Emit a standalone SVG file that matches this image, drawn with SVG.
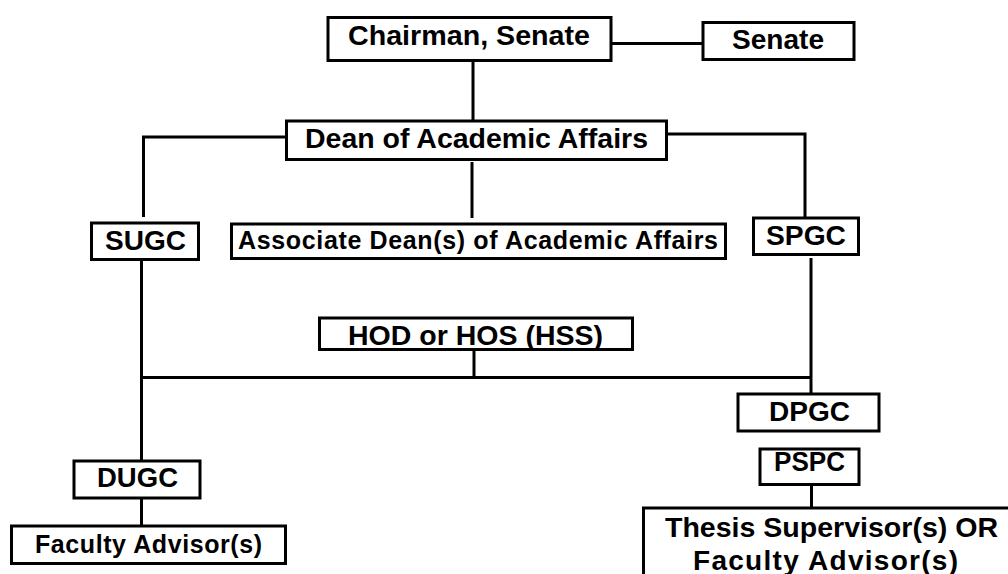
<svg xmlns="http://www.w3.org/2000/svg" width="1008" height="574" viewBox="0 0 1008 574">
<style>
.box{fill:#fff;stroke:#000;stroke-width:3}
.lnk{fill:none;stroke:#000;stroke-width:3}
text{font-family:"Liberation Sans",Arial,sans-serif;font-weight:bold;fill:#000;font-size:27px}
.s{font-size:25px}
.t{font-size:28px}
</style>
<rect width="1008" height="574" fill="#fff"/>
<g id="connectors">
<path class="lnk" d="M612 43.5H702"/>
<path class="lnk" d="M473 61V121"/>
<path class="lnk" d="M286 137H143.5V217"/>
<path class="lnk" d="M667 134H805V217"/>
<path class="lnk" d="M472 162V218"/>
<path class="lnk" d="M141.5 260V460"/>
<path class="lnk" d="M811 258V394"/>
<path class="lnk" d="M474 350V378"/>
<path class="lnk" d="M141.5 377.5H811"/>
<path class="lnk" d="M141.5 498V525"/>
<path class="lnk" d="M811.5 485V508"/>
</g>
<g id="chairman">
<rect class="box" x="328" y="17.5" width="283" height="43"/>
<text x="348" y="44.5" textLength="242" lengthAdjust="spacingAndGlyphs">Chairman, Senate</text>
</g>
<g id="senate">
<rect class="box" x="703" y="22.5" width="151" height="37"/>
<text x="732" y="49" textLength="92" lengthAdjust="spacingAndGlyphs">Senate</text>
</g>
<g id="dean">
<rect class="box" x="286.5" y="121" width="380" height="38.5"/>
<text x="305" y="148" textLength="343" lengthAdjust="spacingAndGlyphs">Dean of Academic Affairs</text>
</g>
<g id="sugc">
<rect class="box" x="91.5" y="223" width="107" height="36.5"/>
<text x="105" y="250" textLength="81" lengthAdjust="spacingAndGlyphs">SUGC</text>
</g>
<g id="associate">
<rect class="box" x="231.5" y="224" width="494" height="34.5"/>
<text class="s" x="238" y="249" textLength="480" lengthAdjust="spacing">Associate Dean(s) of Academic Affairs</text>
</g>
<g id="spgc">
<rect class="box" x="753.5" y="218" width="105" height="36.5"/>
<text x="766" y="245" textLength="80" lengthAdjust="spacingAndGlyphs">SPGC</text>
</g>
<g id="hod">
<rect class="box" x="319.5" y="318" width="313" height="31.5"/>
<text x="348" y="345" textLength="255" lengthAdjust="spacingAndGlyphs">HOD or HOS (HSS)</text>
</g>
<g id="dpgc">
<rect class="box" x="738" y="394" width="141" height="37"/>
<text x="769" y="421" textLength="81" lengthAdjust="spacingAndGlyphs">DPGC</text>
</g>
<g id="pspc">
<rect class="box" x="760" y="449" width="99" height="35.5"/>
<text x="774" y="471" textLength="71" lengthAdjust="spacingAndGlyphs">PSPC</text>
</g>
<g id="dugc">
<rect class="box" x="74" y="461" width="126" height="37"/>
<text x="97" y="487" textLength="81" lengthAdjust="spacingAndGlyphs">DUGC</text>
</g>
<g id="faculty">
<rect class="box" x="11.5" y="526" width="274" height="37.5"/>
<text class="s" x="35" y="553" textLength="227" lengthAdjust="spacing">Faculty Advisor(s)</text>
</g>
<g id="thesis">
<rect class="box" x="643.5" y="508" width="380" height="90"/>
<text class="t" x="665" y="537" textLength="333" lengthAdjust="spacingAndGlyphs">Thesis Supervisor(s) OR</text>
<text class="t" x="693" y="570" textLength="265" lengthAdjust="spacing">Faculty Advisor(s)</text>
</g>
</svg>
